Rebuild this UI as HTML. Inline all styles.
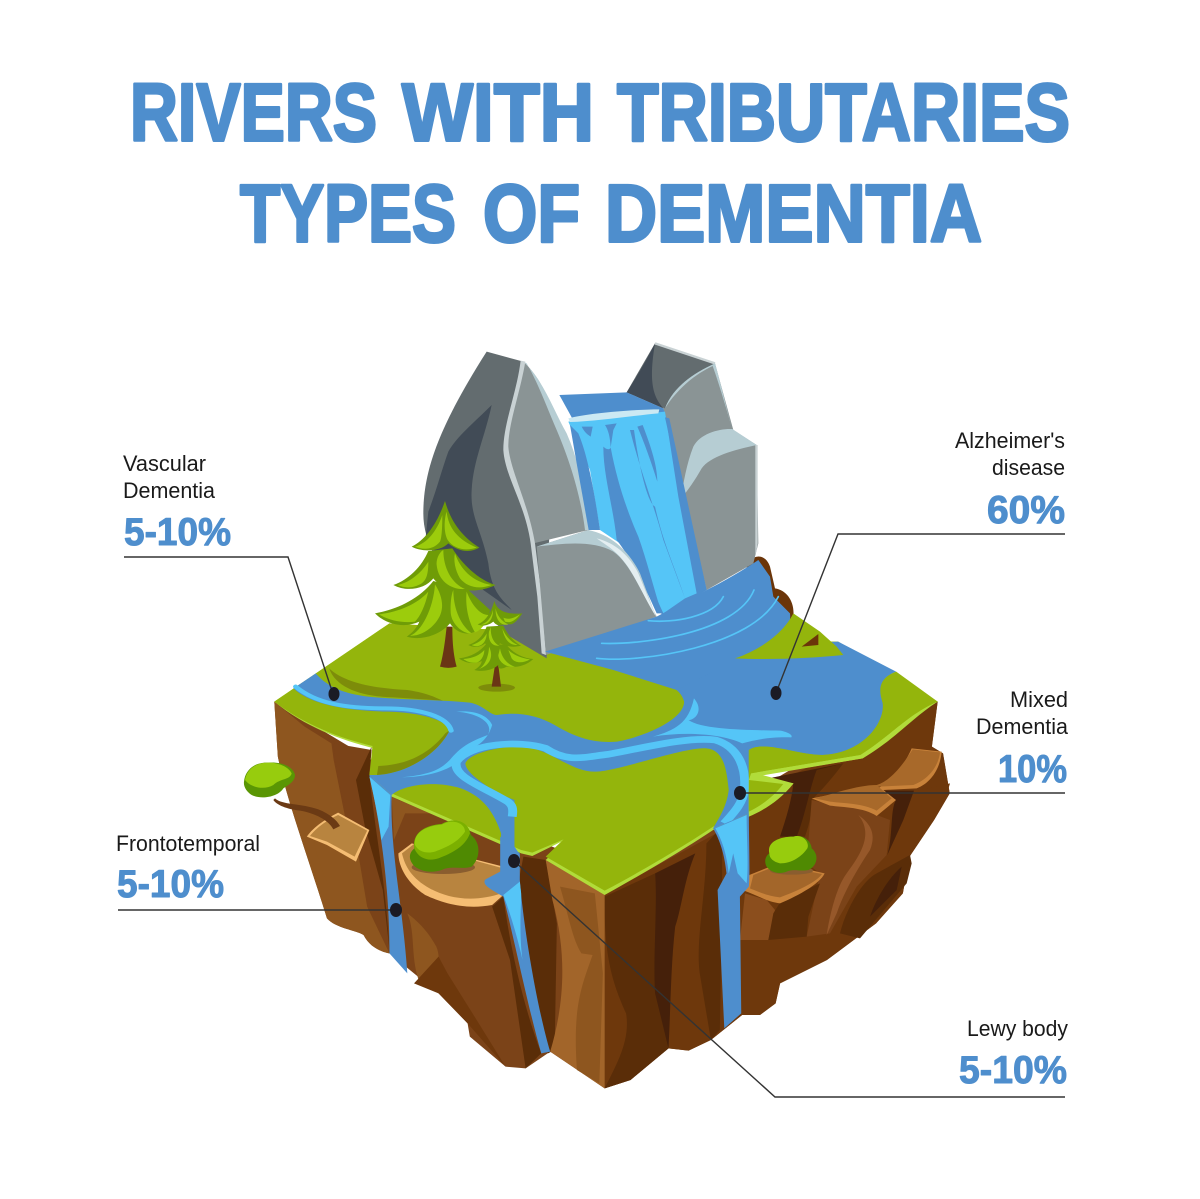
<!DOCTYPE html>
<html><head><meta charset="utf-8"><style>
html,body{margin:0;padding:0;background:#fff}
svg{display:block}
text{font-family:"Liberation Sans",sans-serif}
.t{font-weight:700;font-size:82px;fill:#4e8ecd;stroke:#4e8ecd;stroke-width:3px;stroke-linejoin:round}
.l{font-size:22px;fill:#1a1a1a}
.p{font-weight:700;font-size:39px;fill:#4e8ecd;stroke:#4e8ecd;stroke-width:1px;stroke-linejoin:round}
</style></head><body>
<svg width="1200" height="1199" viewBox="0 0 1200 1199" xmlns="http://www.w3.org/2000/svg">
<rect width="1200" height="1199" fill="#fff"/>
<text class="t" x="130" y="140.5" textLength="247" lengthAdjust="spacingAndGlyphs">RIVERS</text>
<text class="t" x="402" y="140.5" textLength="192" lengthAdjust="spacingAndGlyphs">WITH</text>
<text class="t" x="617" y="140.5" textLength="453" lengthAdjust="spacingAndGlyphs">TRIBUTARIES</text>
<text class="t" x="240" y="241.5" textLength="216" lengthAdjust="spacingAndGlyphs">TYPES</text>
<text class="t" x="483" y="241.5" textLength="97" lengthAdjust="spacingAndGlyphs">OF</text>
<text class="t" x="605" y="241.5" textLength="377" lengthAdjust="spacingAndGlyphs">DEMENTIA</text>

<!-- island base -->
<g transform="translate(260,640) scale(.44643,.33333)">
<path d="M32,185L40,350C60,480 100,620 150,835C170,865 215,870 232,885C245,920 270,935 290,940L400,1060L465,1150L470,1190L550,1280L595,1285L650,1235L772,1345L830,1320L915,1225L960,1232L1010,1200L1080,1125L1120,1125L1155,1090L1165,1030L1270,960L1380,850L1440,760L1455,650L1510,540L1545,460L1530,340L1505,320L1518,185L1200,380L800,700L400,480Z" fill="#7b4318"/>
<path d="M772,762L1050,560L1200,400L1518,185L1505,320L1530,340L1545,460L1510,540L1455,650L1440,760L1380,850L1270,960L1165,1030L1155,1090L1120,1125L1080,1125L1010,1200L960,1232L915,1225L830,1320L772,1345Z" fill="#6e380c"/>
<path d="M772,770L885,700L890,1000L915,1225L830,1320L772,1345C800,1270 830,1200 820,1120C790,1030 770,950 772,770Z" fill="#5a2d08"/>
<path d="M885,700C890,830 880,950 885,1060L915,1225C920,1100 920,980 930,860C945,800 950,720 975,640Z" fill="#45200a"/>
<path d="M1000,610C1000,760 975,900 985,1000L1010,1200L1030,1170L1035,820L1035,560Z" fill="#5a2d08"/>
<path d="M32,185L100,260L160,310L165,360L195,560L230,680L290,940C270,935 245,920 232,885C215,870 170,865 150,835C100,620 60,480 40,350Z" fill="#8e561f"/>
<path d="M165,310L250,330L245,400L290,700L290,940L240,800L215,600C190,500 170,420 165,310Z" fill="#7b4318"/>
<path d="M250,320L245,400C255,560 280,700 290,930L275,750L235,560L215,420Z" fill="#5a2d08"/>
<path d="M120,600C135,700 170,800 230,880L245,900C225,800 200,680 175,620Z" fill="#8e561f"/>
<path d="M295,470L300,600L325,520L385,520L310,480Z" fill="#8e561f"/>
<path d="M330,820C350,880 335,960 360,1035C390,1000 410,970 395,920C375,870 350,840 330,820Z" fill="#8e561f"/>
<path d="M345,1030L400,950L420,1000L490,1150L550,1280L465,1150L400,1060Z" fill="#6e380c"/>
<path d="M520,800L560,960L595,1285L630,1240C590,1100 560,920 545,770Z" fill="#5a2d08"/>
<path d="M590,650L640,660L665,850L660,1230L645,1240C620,1100 595,900 580,720Z" fill="#5a2d08"/>
<path d="M640,660L772,762L772,1345L700,1280L650,1235C680,1100 690,950 655,780Z" fill="#a2652a"/>
<path d="M672,740C690,820 700,900 720,940L745,945C720,1040 700,1100 710,1290L760,1330L768,1000L750,760Z" fill="#8e561f"/>
<path d="M105,590C120,560 150,535 175,518L245,570L215,665L150,615Z" fill="#f5bd73"/>
<path d="M112,588C125,565 150,540 175,525L240,572L212,650L150,605Z" fill="#b8843f"/>
<path d="M310,640L340,610L545,680L545,765L520,795C460,810 410,790 370,765C330,730 310,680 310,640Z" fill="#f5bd73"/>
<path d="M318,640L345,612L545,685L545,758C480,790 420,775 380,745C340,715 325,680 318,640Z" fill="#b8843f"/>
</g>

<!-- right cliff, 3x coordinates -->
<g transform="translate(730,720) scale(.33333)">
<path d="M100,178L340,130C300,170 270,210 240,240C235,290 225,330 215,350L150,350C170,290 185,240 190,190Z" fill="#45200a"/>
<path d="M260,150L340,130C310,170 280,205 245,240C245,290 235,320 225,350L200,350C225,290 240,200 260,150Z" fill="#5a2d08"/>
<path d="M245,240C300,255 380,255 440,285L480,300L470,405L380,500L300,640L230,650L270,460L230,430Z" fill="#7b4318"/>
<path d="M500,240L550,215L660,190L645,240L600,290L540,400L470,405Z" fill="#6e380c"/>
<path d="M460,212L552,212L520,300L472,405C490,340 480,270 498,240Z" fill="#45200a"/>
<path d="M540,405L545,430L530,490L390,655L330,640C350,560 400,480 440,460Z" fill="#5a2d08"/>
<path d="M420,590C440,530 480,470 515,440L500,510Z" fill="#45200a"/>
<path d="M385,285C420,310 440,340 420,390C380,450 340,520 320,580L290,645C300,580 320,500 350,460C395,400 430,340 385,285Z" fill="#96582a"/>
<path d="M45,520L110,540L135,570L115,660L30,660Z" fill="#8b4e1d"/>
<path d="M150,548L270,490L235,590L230,650L115,660L130,580Z" fill="#5a2d08"/>
<path d="M245,235C300,225 380,205 440,205C490,190 530,120 545,85L635,95C630,150 600,190 560,205L460,210L498,240L440,288C400,262 340,262 300,257Z" fill="#c8823a"/>
<path d="M255,235C300,225 380,195 440,195C490,180 530,115 548,88L630,97C625,140 595,178 550,195L445,200L485,235L440,272C400,250 340,250 300,245Z" fill="#a8692a"/>
<path d="M42,512L58,465L120,440L240,450L284,460C270,490 210,525 150,550C110,545 80,525 42,512Z" fill="#c8823a"/>
<path d="M60,505L70,465L120,445L240,455L276,462C260,485 210,510 150,532C110,528 85,515 60,505Z" fill="#a3662a"/>
</g>

<!-- top surface -->
<g transform="translate(260,640) scale(.44643,.33333)">
<path d="M32,185L290,-50L900,0L1295,5L1518,185C1450,230 1420,290 1350,355L1110,410L1195,430C1165,480 1130,510 1095,530L1015,570C960,620 860,700 772,765L640,660L690,595L610,648L585,640L295,470L245,405L255,325C180,300 100,260 32,185Z" fill="#b1dc3a"/>
<path d="M32,185L290,-50L900,0L1295,5L1518,185C1450,225 1420,280 1345,345L1100,400L1095,520L1015,560C960,610 860,690 772,752L640,650L680,598L610,638L585,630L295,460L245,405L252,318C180,295 100,255 32,185Z" fill="#94b50c"/>
<path d="M75,145L125,100C150,140 190,165 260,172C330,180 420,180 470,188C500,195 515,225 530,225C580,215 620,225 660,255C710,295 750,310 800,305C860,290 950,240 950,185C940,130 880,115 800,90L900,20L1100,20L1295,5L1425,95C1385,115 1390,150 1395,190C1400,250 1350,340 1260,345C1200,345 1130,300 1095,330L1095,520L1015,565C1030,530 1045,500 1050,450C1045,390 1040,330 1000,325C950,320 800,395 750,395C700,395 660,340 610,325C560,310 470,335 460,370C460,400 520,455 570,480L570,620L580,640L540,600L540,580C520,500 490,465 450,445C390,420 320,435 295,465L245,405L262,405C330,400 400,340 425,270C420,240 350,215 280,215C180,210 110,190 75,145Z" fill="#4e8ecd"/>
<path d="M155,85C190,130 260,145 330,150C380,160 395,175 410,182L300,172C230,170 170,145 155,85Z" fill="#7d8c0a"/>
<path d="M262,405C330,400 400,340 425,270L415,280C380,340 330,375 265,378Z" fill="#7d8c0a"/>
<path d="M80,140C125,190 190,205 280,205C360,205 420,230 428,272" stroke="#55c5f7" stroke-width="12" fill="none" stroke-linecap="round"/>
<path d="M440,215C490,220 525,250 510,285C470,305 450,320 425,360C400,395 370,405 318,412C390,410 440,385 470,330C490,315 510,300 520,255C510,225 480,210 440,215Z" fill="#55c5f7"/>
<path d="M565,530C568,505 565,495 555,485C500,440 430,410 440,365C470,310 580,300 640,325C690,370 730,350 780,343C870,320 960,290 1020,300C1070,320 1090,380 1085,450C1082,490 1060,520 1040,550" stroke="#55c5f7" stroke-width="20" fill="none" stroke-linejoin="round"/>
<path d="M880,290C930,270 960,250 972,175C995,210 975,240 960,240C990,270 1100,270 1165,272C1180,275 1195,285 1190,292C1140,290 1110,300 1080,310C1030,280 950,275 880,290Z" fill="#55c5f7"/>
<path d="M1095,330C1130,300 1200,345 1260,345C1350,340 1400,250 1395,190C1385,150 1385,115 1425,95L1518,185C1450,225 1420,280 1345,345L1115,395L1095,420Z" fill="#94b50c"/>
<path d="M1100,400L1345,345C1420,280 1450,225 1518,185C1460,235 1425,295 1350,355L1125,405L1195,430C1165,480 1130,510 1095,525L1095,420Z" fill="#b1dc3a"/>
<path d="M1095,420L1172,432C1150,470 1125,495 1095,515Z" fill="#94b50c"/>
<!-- falls -->
<path d="M245,405L295,465C290,620 320,800 330,1000L290,940C290,800 280,620 245,405Z" fill="#4e8ecd"/>
<path d="M245,410L292,465L288,560L272,600C265,530 255,470 245,410Z" fill="#55c5f7"/>
<path d="M538,590L582,640L582,720C590,860 620,1100 650,1235L630,1240C600,1100 570,900 545,770C520,750 495,735 505,718L538,695Z" fill="#4e8ecd"/>
<path d="M582,725L545,765C555,800 575,880 588,960C580,880 585,800 585,760Z" fill="#55c5f7"/>
<path d="M1015,565L1095,520C1095,600 1098,700 1095,740L1075,770L1078,1120L1040,1165L1025,750L1045,700C1040,640 1030,600 1015,565Z" fill="#4e8ecd"/>
<path d="M1020,565L1090,525C1090,600 1095,680 1090,730L1070,700L1060,640L1050,700C1045,640 1035,600 1020,565Z" fill="#55c5f7"/>
</g>

<!-- left bush + big bush, 3x coordinates -->
<g transform="translate(235,750) scale(.33333)">
<path d="M120,145C140,165 200,160 250,178C285,192 305,210 315,228L295,238C280,210 240,190 195,182C165,178 130,170 115,150Z" fill="#6b3a14"/>
<path d="M27,95C30,60 60,35 100,38C140,35 175,50 180,75C180,95 160,105 145,115C130,140 80,150 50,135C35,125 25,110 27,95Z" fill="#5a9604"/>
<path d="M30,90C35,60 60,38 100,38C130,38 160,50 170,70C165,90 135,85 115,105C90,120 50,115 30,90Z" fill="#97cc0d"/>
<ellipse cx="625" cy="352" rx="95" ry="20" fill="#8a5d2f"/>
<path d="M540,350C520,330 520,310 538,295C530,250 570,225 620,222C660,200 700,215 708,255C735,275 740,320 710,350C680,360 650,345 620,360C590,370 560,365 540,350Z" fill="#4f8a02"/>
<path d="M538,295C530,250 570,225 620,222C660,200 700,215 705,250C690,290 650,310 610,325C580,335 550,325 538,295Z" fill="#7bb000"/>
<path d="M540,285C535,250 570,228 620,224C655,205 690,220 690,245C670,275 640,290 600,305C575,312 550,305 540,285Z" fill="#97cc0d"/>
</g>

<!-- right bush, 3x coordinates -->
<g transform="translate(730,720) scale(.33333)">
<ellipse cx="185" cy="452" rx="65" ry="12" fill="#8a5d2f"/>
<path d="M110,440C100,420 110,405 118,400C110,365 150,350 190,350C225,340 245,370 245,385C270,405 260,440 235,450C210,455 190,445 170,455C145,465 120,455 110,440Z" fill="#4f8a02"/>
<path d="M118,400C110,365 150,350 190,350C220,340 240,370 232,385C215,410 185,430 150,430C130,425 118,415 118,400Z" fill="#97cc0d"/>
</g>

<!-- rocks + falls, zoom-1 coordinates -->
<g transform="translate(400,330) scale(.33333)">
<path d="M1050,690C1075,670 1100,680 1110,710L1125,775C1160,780 1185,815 1180,860C1175,890 1150,915 1120,930L1000,800Z" fill="#6b3509"/>
<path d="M260,65L370,95L450,500L440,985L330,920L200,800C120,720 70,640 70,550C70,430 110,300 260,65Z" fill="#636c6f"/>
<path d="M275,225C220,280 170,320 145,365C125,420 110,480 85,545L75,640L200,730L250,780L335,840C310,810 275,790 265,700C245,600 210,560 215,480C220,390 255,320 275,225Z" fill="#414b56"/>
<path d="M765,40L945,100L1000,300L1070,345L1075,640L1060,700L920,780L790,235L680,187Z" fill="#8a9495"/>
<path d="M765,40L945,100C880,130 820,170 795,235L680,187Z" fill="#636c6f"/>
<path d="M765,40C740,90 710,140 680,187L790,235C760,200 745,160 765,40Z" fill="#414b56"/>
<path d="M765,40L945,100" stroke="#c9d2d4" stroke-width="7" fill="none"/>
<path d="M795,235C820,170 880,130 945,100C965,170 980,240 997,297L1070,345C1000,360 930,380 905,415C885,450 865,480 843,505C850,460 860,400 880,350C900,310 960,295 997,297C980,240 960,170 938,108C880,135 830,180 795,235Z" fill="#b6cdd3"/>
<path d="M1066,345L1073,345L1073,640L1066,680Z" fill="#c9d2d4"/>
<path d="M370,95C345,200 310,280 315,360C325,440 380,520 400,640L565,600C555,500 530,400 490,310C460,240 430,150 370,95Z" fill="#8a9495"/>
<path d="M370,95C430,150 460,240 500,310C540,400 555,500 570,600L555,600C540,480 500,370 470,300C440,230 410,150 380,100Z" fill="#b6cdd3"/>
<path d="M362,92L376,95C360,190 325,280 325,350C330,420 385,520 405,640L425,800L438,975L425,970L412,800L392,640C375,520 315,440 310,360C310,280 350,190 362,92Z" fill="#c9d2d4"/>
<!-- waterfall -->
<path d="M478,195L680,187L790,235L805,280L920,780L790,860L700,720L590,430C560,340 520,270 478,195Z" fill="#4e8ecd"/>
<path d="M505,275L795,245L835,500L890,790L855,805L790,850L740,740L660,640L600,600L570,420L520,310Z" fill="#55c5f7"/>
<path d="M510,285L535,310C565,380 585,500 600,600L566,600L530,400Z" fill="#4e8ecd"/>
<path d="M610,350C620,360 630,360 632,352C650,450 680,540 715,620C740,690 760,770 785,850L770,850C730,760 690,680 650,630C640,530 610,440 610,350Z" fill="#4e8ecd"/>
<path d="M690,300C720,420 760,520 790,630L855,805C820,700 790,640 765,530C745,520 720,430 702,300Z" fill="#4e8ecd"/>
<path d="M712,290C730,330 755,400 772,455C772,400 745,330 728,285Z" fill="#4e8ecd"/>
<path d="M795,262L808,265L920,780L893,790C870,640 830,420 795,262Z" fill="#4e8ecd"/>
<path d="M545,290C555,310 565,315 572,320L578,290ZM615,285C625,300 630,320 632,352L640,300L650,280Z" fill="#4e8ecd"/>
<path d="M505,265C560,250 700,238 778,238L775,250C690,258 590,274 510,276Z" fill="#cbe9f3"/>
<path d="M410,650L565,600C620,620 670,660 700,720L770,860L438,975Z" fill="#8a9495"/>
<path d="M410,650L565,600C640,615 690,670 720,730L768,860C720,780 690,700 640,665C580,630 490,640 410,650Z" fill="#b6cdd3"/>
<path d="M590,625C650,640 690,680 715,730L768,860C725,790 700,720 655,675C630,650 610,640 590,625Z" fill="#e4eef1"/>
<path d="M435,965L770,860L920,780C970,755 1030,720 1075,690L1110,740L1120,800L1170,850C1175,890 1150,910 1120,935L830,1080L640,1020Z" fill="#4e8ecd"/>
<path d="M745,872C820,880 940,860 970,800M605,940C720,945 1010,910 1062,780M590,985C720,1000 1060,950 1135,800" stroke="#55c5f7" stroke-width="5" fill="none" stroke-linecap="round"/>
<path d="M1005,985C1080,960 1150,910 1180,850L1260,905L1310,950L1330,975C1230,985 1110,990 1005,985Z" fill="#94b50c"/>
<path d="M1205,950L1255,912L1255,945Z" fill="#6b3509"/>
</g>

<!-- trees, 3x coordinates -->
<g transform="translate(365,495) scale(.33333)">
<path d="M225,515C235,480 240,440 245,395L262,395C262,440 265,480 275,515Q250,522 225,515Z" fill="#6a3515"/>
<g fill="#6f9c07">
<path d="M30,355C90,345 160,315 205,258L310,285L375,345C370,385 335,420 300,415C280,412 265,400 255,385C225,420 170,438 125,425C140,415 155,400 163,380C120,400 65,390 30,355Z"/>
<path d="M85,270C130,255 170,215 190,168L262,160C290,205 340,255 392,270C360,285 320,292 285,282C250,285 220,270 205,250C180,282 125,292 85,270Z"/>
<path d="M140,155C180,135 215,90 240,18C260,90 300,130 343,158C310,178 275,165 250,145C225,170 170,172 140,155Z"/>
</g>
<g fill="#9ccc0c">
<path d="M42,358C95,352 155,330 190,290C180,335 165,365 150,380C110,385 70,375 42,358Z"/>
<path d="M135,422C170,410 205,340 210,268C225,290 235,320 230,345C225,380 180,425 135,422Z"/>
<path d="M265,285C265,330 280,385 320,415C300,418 265,395 258,360C255,335 258,300 265,285Z"/>
<path d="M305,290C320,330 345,360 370,360C365,390 340,410 330,412C310,380 300,330 305,290Z"/>
<path d="M98,270C140,262 175,225 190,200C190,235 185,255 170,265C145,280 120,280 98,270Z"/>
<path d="M235,165C235,220 260,265 300,282C260,285 220,260 215,210C213,190 225,170 235,165Z"/>
<path d="M270,175C285,220 320,260 380,270C340,285 305,275 285,250C270,225 265,195 270,175Z"/>
<path d="M150,155C185,145 215,110 232,60C232,100 230,130 225,140C205,165 175,165 150,155Z"/>
<path d="M245,50C250,100 280,135 335,158C300,170 265,160 248,135C235,110 238,70 245,50Z"/>
</g>
<ellipse cx="395" cy="578" rx="55" ry="12" fill="#7d8c0a"/>
<path d="M380,575L390,510L400,510L408,575Z" fill="#6a3515"/>
<g fill="#6f9c07">
<path d="M282,490C320,485 345,470 365,445L425,450C445,475 475,490 505,492C480,515 450,518 425,515C415,522 395,525 400,510C385,525 350,532 328,525C345,515 350,505 350,498C330,508 300,505 282,490Z"/>
<path d="M310,450C340,440 355,420 365,395L415,392C425,415 445,440 468,452C445,458 425,455 405,445C395,460 375,458 360,445C345,458 325,458 310,450Z"/>
<path d="M338,388C360,380 378,355 388,318C395,345 420,360 472,355C455,380 440,395 425,385C410,392 395,395 385,380C370,392 352,395 338,388Z"/>
</g>
<g fill="#9ccc0c">
<path d="M295,492C325,490 345,480 358,465C358,485 345,500 335,503C320,505 305,500 295,492Z"/>
<path d="M340,523C360,515 372,480 372,455C385,480 380,510 340,523Z"/>
<path d="M405,460C410,490 430,510 450,515C425,520 400,500 400,480Z"/>
<path d="M430,465C445,480 470,490 495,493C475,505 450,505 440,490Z"/>
<path d="M320,450C340,445 358,430 365,415C365,435 355,450 340,453C333,455 325,453 320,450Z"/>
<path d="M378,395C375,420 385,445 403,452C380,455 368,435 372,410Z"/>
<path d="M412,400C420,420 435,440 458,450C435,452 418,435 412,400Z"/>
<path d="M348,388C365,385 378,370 384,345C385,365 375,392 348,388Z"/>
<path d="M392,340C395,360 410,380 430,388C410,395 390,375 392,340Z"/>
<path d="M415,368C430,375 445,370 465,358C450,378 435,385 420,380Z"/>
</g>
</g>

<!-- leaders -->
<g fill="none" stroke="#333" stroke-width="1.4">
<path d="M124,557L288,557L333,694"/>
<path d="M1065,534L838,534L776,693"/>
<path d="M1065,793L740,793"/>
<path d="M118,910L396,910"/>
<path d="M1065,1097L775,1097L514,861"/>
</g>
<g fill="#1b1b25">
<ellipse cx="334" cy="694" rx="5.5" ry="7"/>
<ellipse cx="776" cy="693" rx="5.5" ry="7"/>
<ellipse cx="740" cy="793" rx="6" ry="7"/>
<ellipse cx="396" cy="910" rx="6" ry="7"/>
<ellipse cx="514" cy="861" rx="6" ry="7"/>
</g>

<!-- labels -->
<text class="l" x="123" y="471" textLength="83" lengthAdjust="spacingAndGlyphs">Vascular</text>
<text class="l" x="123" y="498" textLength="92" lengthAdjust="spacingAndGlyphs">Dementia</text>
<text class="p" x="124" y="545" textLength="107" lengthAdjust="spacingAndGlyphs">5-10%</text>
<text class="l" x="955" y="448" textLength="110" lengthAdjust="spacingAndGlyphs">Alzheimer's</text>
<text class="l" x="992" y="475" textLength="73" lengthAdjust="spacingAndGlyphs">disease</text>
<text class="p" x="987" y="523" textLength="78" lengthAdjust="spacingAndGlyphs">60%</text>
<text class="l" x="1010" y="707" textLength="58" lengthAdjust="spacingAndGlyphs">Mixed</text>
<text class="l" x="976" y="734" textLength="92" lengthAdjust="spacingAndGlyphs">Dementia</text>
<text class="p" x="998" y="782" textLength="69" lengthAdjust="spacingAndGlyphs">10%</text>
<text class="l" x="116" y="851" textLength="144" lengthAdjust="spacingAndGlyphs">Frontotemporal</text>
<text class="p" x="117" y="897" textLength="107" lengthAdjust="spacingAndGlyphs">5-10%</text>
<text class="l" x="967" y="1036" textLength="101" lengthAdjust="spacingAndGlyphs">Lewy body</text>
<text class="p" x="959" y="1083" textLength="108" lengthAdjust="spacingAndGlyphs">5-10%</text>
</svg>
</body></html>
